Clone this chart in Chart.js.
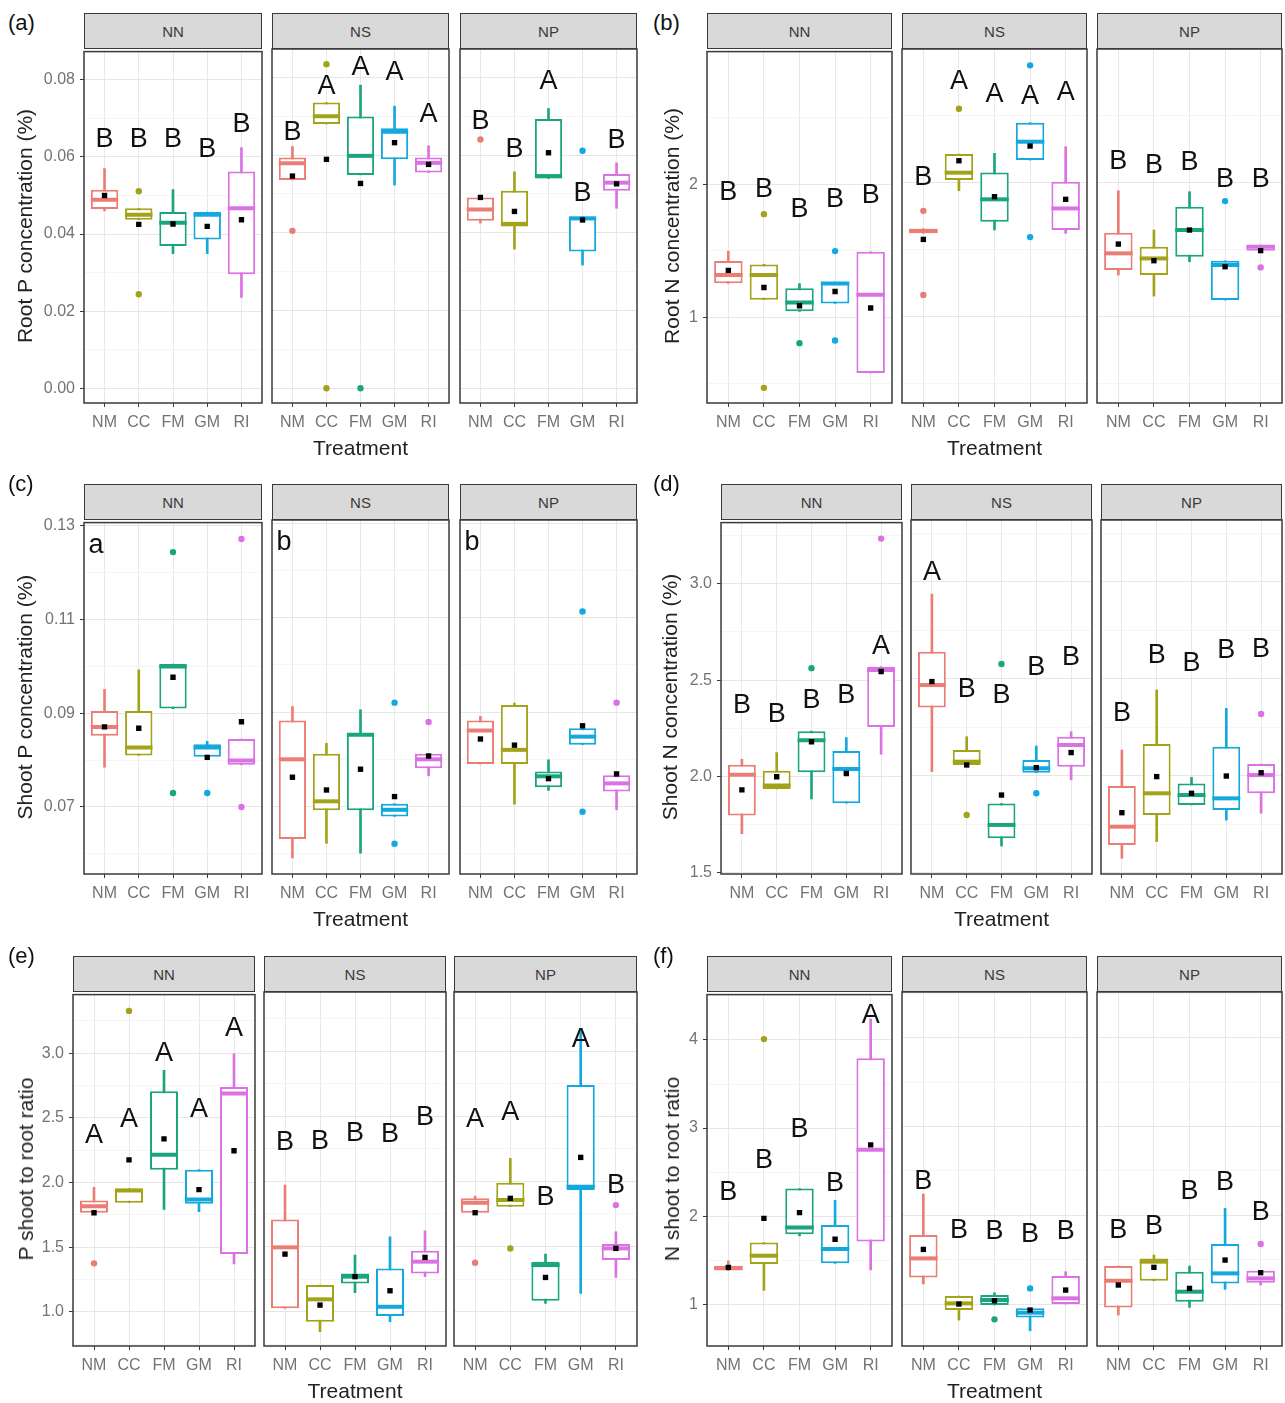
<!DOCTYPE html>
<html>
<head>
<meta charset="utf-8">
<title>Root and shoot nutrient concentrations</title>
<script src="https://cdn.jsdelivr.net/npm/chart.js@4/dist/chart.umd.min.js"></script>
<style>
  html, body { margin: 0; padding: 0; background: #fff; }
  body { width: 1285px; height: 1403px; position: relative; overflow: hidden;
         font-family: "Liberation Sans", Arial, sans-serif; }
  canvas { position: absolute; }
  .strip { position: absolute; box-sizing: border-box; background: #d9d9d9; border: 1px solid #3a3a3a;
           color: #3a3a3a; font-size: 15px; display: flex; align-items: center; justify-content: center; }
  .tag { position: absolute; font-size: 22px; color: #111; transform: translateY(-50%); }
  .xtitle { position: absolute; font-size: 21px; color: #222; transform: translate(-50%, -50%); white-space: nowrap; }
  .ytitle { position: absolute; font-size: 21px; color: #222; transform: translate(-50%, -50%) rotate(-90deg); white-space: nowrap; }
</style>
</head>
<body>
<script>
// ---------- categories ----------
const treatments = ['NM', 'CC', 'FM', 'GM', 'RI'];
const facets = ['NN', 'NS', 'NP'];
const treatmentColors = ['#ec7d74', '#a3a31a', '#1aa57e', '#14a9dd', '#da72e4'];

// Box statistics per facet (NN, NS, NP), per treatment:
// [lower whisker, Q1, median, Q3, upper whisker]

// (a) Root P concentration (%)
const rootP_stats = [
  [[0.0460,0.0465,0.0489,0.0515,0.0570],[0.0437,0.0437,0.0450,0.0467,0.0467],[0.0349,0.0369,0.0429,0.0457,0.0515],[0.0349,0.0386,0.0450,0.0457,0.0457],[0.0236,0.0296,0.0467,0.0562,0.0624]],
  [[0.0536,0.0536,0.0579,0.0594,0.0622],[0.0680,0.0680,0.0700,0.0735,0.0735],[0.0549,0.0549,0.0598,0.0699,0.0780],[0.0523,0.0589,0.0660,0.0669,0.0726],[0.0555,0.0555,0.0580,0.0594,0.0624]],
  [[0.0425,0.0431,0.0460,0.0491,0.0491],[0.0358,0.0416,0.0423,0.0508,0.0557],[0.0540,0.0540,0.0546,0.0693,0.0720],[0.0317,0.0352,0.0437,0.0442,0.0442],[0.0463,0.0508,0.0529,0.0551,0.0580]]
];
const rootP_means = [[0.0500,0.0425,0.0426,0.0420,0.0437],[0.0546,0.0589,0.0527,0.0632,0.0576],[0.0491,0.0455,0.0606,0.0433,0.0526]];
const rootP_outliers = [[[],[0.0511,0.0244],[],[],[]],[[0.0405],[0.0834,0.0],[0.0],[],[]],[[0.0640],[],[],[0.0611],[]]];
const rootP_letters = [['B','B','B','B','B'],['B','A','A','A','A'],['B','B','A','B','B']];
const rootP_letterY = [[0.0648,0.0648,0.0648,0.0622,0.0686],[0.0660,0.0780,0.0828,0.0815,0.0707],[0.0690,0.0617,0.0793,0.0503,0.0639]];
const rootP_range = [-0.0038, 0.0873];
const rootP_major = [0, 0.02, 0.04, 0.06, 0.08];
const rootP_minor = [0.01, 0.03, 0.05, 0.07];

// (b) Root N concentration (%)
const rootN_stats = [
  [[1.256,1.256,1.318,1.423,1.498],[1.132,1.132,1.318,1.398,1.398],[1.045,1.045,1.112,1.219,1.254],[1.104,1.104,1.254,1.266,1.266],[0.582,0.582,1.169,1.493,1.493]],
  [[1.622,1.622,1.640,1.657,1.657],[1.940,2.020,2.075,2.214,2.214],[1.647,1.709,1.876,2.077,2.219],[2.169,2.169,2.306,2.448,2.448],[1.622,1.647,1.808,2.007,2.269]],
  [[1.311,1.348,1.473,1.627,1.940],[1.154,1.311,1.435,1.522,1.647],[1.410,1.448,1.647,1.821,1.933],[1.124,1.124,1.386,1.418,1.418],[1.493,1.493,1.522,1.535,1.535]]
];
const rootN_means = [[1.353,1.224,1.087,1.194,1.070],[1.577,2.164,1.896,2.274,1.876],[1.542,1.418,1.647,1.373,1.493]];
const rootN_outliers = [[[],[1.776,0.470],[0.806],[1.498,0.826],[]],[[1.790,1.162],[2.552],[],[2.876,1.594],[]],[[],[],[],[1.863],[1.368]]];
const rootN_letters = [['B','B','B','B','B'],['B','A','A','A','A'],['B','B','B','B','B']];
const rootN_letterY = [[1.945,1.970,1.820,1.895,1.920],[2.045,2.766,2.667,2.654,2.679],[2.169,2.132,2.157,2.032,2.032]];
const rootN_range = [0.356, 2.998];
const rootN_major = [1, 2];
const rootN_minor = [0.5, 1.5, 2.5];

// (c) Shoot P concentration (%)
const shootP_stats = [
  [[0.0785,0.0852,0.0871,0.0905,0.0951],[0.0810,0.0810,0.0827,0.0905,0.0993],[0.0910,0.0910,0.1000,0.1005,0.1005],[0.0807,0.0807,0.0827,0.0834,0.0840],[0.0790,0.0790,0.0799,0.0845,0.0845]],
  [[0.0591,0.0631,0.0800,0.0882,0.0912],[0.0622,0.0692,0.0711,0.0812,0.0834],[0.0601,0.0692,0.0852,0.0855,0.0905],[0.0679,0.0679,0.0693,0.0706,0.0706],[0.0765,0.0781,0.0800,0.0812,0.0812]],
  [[0.0790,0.0790,0.0861,0.0882,0.0891],[0.0705,0.0790,0.0820,0.0915,0.0919],[0.0734,0.0741,0.0764,0.0774,0.0799],[0.0831,0.0831,0.0848,0.0866,0.0866],[0.0693,0.0732,0.0749,0.0766,0.0766]]
];
const shootP_means = [[0.0871,0.0868,0.0977,0.0806,0.0882],[0.0762,0.0735,0.0779,0.0721,0.0807],[0.0843,0.0830,0.0759,0.0871,0.0769]];
const shootP_outliers = [[[],[],[0.1244,0.0730],[0.0730],[0.1272,0.0700]],[[],[],[],[0.0920,0.0621],[0.0879]],[[],[],[],[0.1113,0.0689],[0.0920]]];
const shootP_groupLetters = ['a', 'b', 'b'];
const shootP_groupLetterY = [0.1261, 0.1261, 0.1261];
const shootP_range = [0.0557, 0.1307];
const shootP_major = [0.07, 0.09, 0.11, 0.13];
const shootP_minor = [0.06, 0.08, 0.10, 0.12];

// (d) Shoot N concentration (%)
const shootN_stats = [
  [[1.703,1.797,2.009,2.060,2.089],[1.935,1.935,1.952,2.029,2.124],[1.883,2.021,2.187,2.235,2.235],[1.861,1.861,2.038,2.132,2.201],[2.115,2.256,2.553,2.570,2.570]],
  [[2.021,2.352,2.467,2.639,2.936],[2.055,2.055,2.072,2.132,2.201],[1.637,1.677,1.746,1.857,1.857],[2.015,2.015,2.038,2.081,2.153],[1.978,2.046,2.158,2.201,2.227]],
  [[1.574,1.643,1.737,1.947,2.132],[1.660,1.797,1.909,2.163,2.442],[1.849,1.849,1.900,1.960,1.991],[1.771,1.823,1.883,2.149,2.347],[1.806,1.909,2.003,2.060,2.060]]
];
const shootN_means = [[1.930,1.998,2.180,2.015,2.545],[2.485,2.055,1.900,2.041,2.119],[1.809,1.995,1.909,1.998,2.015]];
const shootN_outliers = [[[],[],[2.562],[],[3.235]],[[],[1.797],[2.576],[1.909],[]],[[],[],[],[],[2.318]]];
const shootN_letters = [['B','B','B','B','A'],['A','B','B','B','B'],['B','B','B','B','B']];
const shootN_letterY = [[2.373,2.325,2.399,2.424,2.682],[3.052,2.450,2.416,2.562,2.613],[2.325,2.622,2.582,2.648,2.656]];
const shootN_range = [1.493, 3.318];
const shootN_major = [1.5, 2.0, 2.5, 3.0];
const shootN_minor = [1.75, 2.25, 2.75, 3.25];

// (e) P shoot to root ratio
const ratioP_stats = [
  [[1.767,1.767,1.818,1.862,1.964],[1.844,1.844,1.939,1.954,1.954],[1.793,2.100,2.215,2.706,2.867],[1.775,1.836,1.870,2.100,2.100],[1.371,1.448,2.688,2.739,2.995]],
  [[1.026,1.026,1.494,1.708,1.972],[0.847,0.923,1.095,1.205,1.205],[1.146,1.217,1.269,1.294,1.435],[0.923,0.967,1.038,1.332,1.575],[1.269,1.294,1.384,1.468,1.621]],
  [[1.760,1.760,1.836,1.870,1.887],[1.806,1.806,1.857,1.990,2.176],[1.064,1.084,1.358,1.384,1.442],[1.141,1.934,1.959,2.739,3.174],[1.263,1.396,1.486,1.519,1.614]]
];
const ratioP_means = [[1.767,2.176,2.338,1.946,2.246],[1.442,1.051,1.269,1.161,1.417],[1.760,1.870,1.263,2.184,1.486]];
const ratioP_outliers = [[[1.376],[3.327],[],[],[]],[[],[],[],[],[]],[[1.376],[1.486],[],[],[1.818]]];
const ratioP_letters = [['A','A','A','A','A'],['B','B','B','B','B'],['A','A','B','A','B']];
const ratioP_letterY = [[2.368,2.496,3.008,2.573,3.200],[2.304,2.312,2.373,2.368,2.496],[2.483,2.535,1.882,3.097,1.972]];
const ratioP_range = [0.737, 3.453];
const ratioP_major = [1.0, 1.5, 2.0, 2.5, 3.0];
const ratioP_minor = [0.75, 1.25, 1.75, 2.25, 2.75, 3.25];

// (f) N shoot to root ratio
const ratioN_stats = [
  [[1.383,1.383,1.413,1.439,1.495],[1.157,1.458,1.552,1.702,1.702],[1.777,1.796,1.871,2.314,2.314],[1.465,1.465,1.627,1.901,2.179],[1.390,1.713,2.753,3.793,4.237]],
  [[1.225,1.300,1.514,1.777,2.239],[0.819,0.932,1.007,1.090,1.090],[0.988,0.988,1.045,1.101,1.127],[0.699,0.849,0.902,0.951,0.951],[1.000,1.000,1.064,1.315,1.364]],
  [[0.876,0.962,1.262,1.428,1.428],[1.262,1.262,1.477,1.514,1.552],[0.962,1.026,1.139,1.364,1.428],[1.165,1.232,1.345,1.676,2.077],[1.214,1.240,1.289,1.375,1.375]]
];
const ratioN_means = [[1.420,1.976,2.040,1.739,2.810],[1.615,1.000,1.037,0.932,1.157],[1.214,1.413,1.176,1.495,1.353]];
const ratioN_outliers = [[[],[4.010],[],[],[]],[[],[],[0.827],[1.176],[]],[[],[],[],[],[1.676]]];
const ratioN_letters = [['B','B','B','B','A'],['B','B','B','B','B'],['B','B','B','B','B']];
const ratioN_letterY = [[2.284,2.641,2.990,2.378,4.293],[2.389,1.841,1.826,1.796,1.833],[1.841,1.889,2.276,2.378,2.040]];
const ratioN_range = [0.527, 4.515];
const ratioN_major = [1, 2, 3, 4];
const ratioN_minor = [1.5, 2.5, 3.5, 4.5];

// ---------- page layout ----------
const FONT = '"Liberation Sans", Arial, sans-serif';
const PLOT_H = 354, STRIP_H = 36, Y_AXIS_W = 62, X_AXIS_H = 46;
const PAD_T = 12, PAD_S = 4;

const panels = [
  { tag: '(a)', tagX: 8,   tagY: 23,  top: 49,  cols: [[84,262],[272,449],[460,637]],     titleX: 25,  yTitle: 'Root P concentration (%)',
    stats: rootP_stats, means: rootP_means, outliers: rootP_outliers, letters: rootP_letters, letterY: rootP_letterY,
    range: rootP_range, major: rootP_major, minor: rootP_minor, digits: 2 },
  { tag: '(b)', tagX: 653, tagY: 23,  top: 49,  cols: [[707,892],[902,1087],[1097,1282]],  titleX: 672, yTitle: 'Root N concentration (%)',
    stats: rootN_stats, means: rootN_means, outliers: rootN_outliers, letters: rootN_letters, letterY: rootN_letterY,
    range: rootN_range, major: rootN_major, minor: rootN_minor, digits: 0 },
  { tag: '(c)', tagX: 8,   tagY: 484, top: 520, cols: [[84,262],[272,449],[460,637]],     titleX: 25,  yTitle: 'Shoot P concentration (%)',
    stats: shootP_stats, means: shootP_means, outliers: shootP_outliers, groupLetters: shootP_groupLetters, groupLetterY: shootP_groupLetterY,
    range: shootP_range, major: shootP_major, minor: shootP_minor, digits: 2 },
  { tag: '(d)', tagX: 653, tagY: 484, top: 520, cols: [[721,902],[911,1092],[1101,1282]],  titleX: 670, yTitle: 'Shoot N concentration (%)',
    stats: shootN_stats, means: shootN_means, outliers: shootN_outliers, letters: shootN_letters, letterY: shootN_letterY,
    range: shootN_range, major: shootN_major, minor: shootN_minor, digits: 1 },
  { tag: '(e)', tagX: 8,   tagY: 956, top: 992, cols: [[73,255],[264,446],[454,637]],     titleX: 26,  yTitle: 'P shoot to root ratio',
    stats: ratioP_stats, means: ratioP_means, outliers: ratioP_outliers, letters: ratioP_letters, letterY: ratioP_letterY,
    range: ratioP_range, major: ratioP_major, minor: ratioP_minor, digits: 1 },
  { tag: '(f)', tagX: 653, tagY: 956, top: 992, cols: [[707,892],[902,1087],[1097,1282]],  titleX: 672, yTitle: 'N shoot to root ratio',
    stats: ratioN_stats, means: ratioN_means, outliers: ratioN_outliers, letters: ratioN_letters, letterY: ratioN_letterY,
    range: ratioN_range, major: ratioN_major, minor: ratioN_minor, digits: 0 }
];

Chart.defaults.font.family = FONT;
Chart.defaults.animation = false;

// Panel border plus the significance letters, placed through the chart's scales.
const facetDecor = {
  id: 'facetDecor',
  afterDatasetsDraw(chart, args, opts) {
    const { ctx, chartArea: a } = chart;
    const xs = chart.scales.x, ys = chart.scales.y;
    ctx.save();
    ctx.fillStyle = '#111';
    ctx.textBaseline = 'middle';
    ctx.font = '27px ' + FONT;
    ctx.textAlign = 'center';
    (opts.letters || []).forEach((L, i) => {
      ctx.fillText(L, xs.getPixelForValue(i), ys.getPixelForValue(opts.letterY[i]) + 1);
    });
    if (opts.group) {
      ctx.fillText(opts.group, xs.getPixelForValue(-0.25), ys.getPixelForValue(opts.groupY) + 1);
    }
    ctx.strokeStyle = '#3a3a3a';
    ctx.lineWidth = 1.5;
    ctx.strokeRect(a.left, a.top, a.right - a.left, a.bottom - a.top);
    ctx.restore();
  }
};

function addDiv(cls, text, style) {
  const d = document.createElement('div');
  d.className = cls;
  d.textContent = text;
  Object.assign(d.style, style);
  document.body.appendChild(d);
  return d;
}

function buildFacet(p, f) {
  const [x0, x1] = p.cols[f];
  const first = f === 0;
  const yW = first ? Y_AXIS_W : 0;
  const w = x1 - x0;

  const canvas = document.createElement('canvas');
  canvas.width = w + yW + 2 * PAD_S;
  canvas.height = PLOT_H + PAD_T + X_AXIS_H;
  canvas.style.left = (x0 - yW - PAD_S) + 'px';
  canvas.style.top = (p.top - PAD_T) + 'px';
  canvas.style.width = canvas.width + 'px';
  canvas.style.height = canvas.height + 'px';
  document.body.appendChild(canvas);

  const stats = p.stats[f];
  const yTicks = p.major.map(v => ({ value: v, isMajor: true }))
    .concat(p.minor.map(v => ({ value: v, isMajor: false })))
    .sort((a, b) => a.value - b.value);

  const outPts = [], outCols = [];
  p.outliers[f].forEach((vals, i) => vals.forEach(v => { outPts.push({ x: i, y: v }); outCols.push(treatmentColors[i]); }));

  const halfBox = (chart) => {
    const xs = chart.scales.x;
    return Math.abs(xs.getPixelForValue(0.4) - xs.getPixelForValue(0));
  };

  new Chart(canvas, {
    type: 'bar',
    data: {
      datasets: [
        { // whiskers
          type: 'bar', order: 5, grouped: false,
          data: stats.map((s, i) => ({ x: i, y: [s[0], s[4]] })),
          backgroundColor: treatmentColors, borderWidth: 0, barThickness: 2
        },
        { // boxes (Q1 to Q3)
          type: 'bar', order: 4, grouped: false,
          data: stats.map((s, i) => ({ x: i, y: [s[1], s[3]] })),
          backgroundColor: '#ffffff', borderColor: treatmentColors, borderWidth: 2, borderSkipped: false,
          categoryPercentage: 1, barPercentage: 0.8
        },
        { // medians
          type: 'scatter', order: 3,
          data: stats.map((s, i) => ({ x: i, y: s[2] })),
          pointStyle: 'line', pointBorderColor: treatmentColors, pointBorderWidth: 4,
          pointRadius: ctx => halfBox(ctx.chart)
        },
        { // outliers
          type: 'scatter', order: 2,
          data: outPts,
          pointStyle: 'circle', pointBackgroundColor: outCols, pointBorderWidth: 0, pointRadius: 3.2
        },
        { // means
          type: 'scatter', order: 1,
          data: p.means[f].map((m, i) => ({ x: i, y: m })),
          pointStyle: 'rect', pointBackgroundColor: '#000', pointBorderWidth: 0, pointRadius: 3.8
        }
      ]
    },
    options: {
      responsive: false,
      devicePixelRatio: 1,
      animation: false,
      events: [],
      layout: { padding: { top: PAD_T, left: PAD_S, right: PAD_S, bottom: 0 } },
      plugins: {
        legend: { display: false },
        tooltip: { enabled: false },
        facetDecor: {
          letters: p.letters ? p.letters[f] : null,
          letterY: p.letterY ? p.letterY[f] : null,
          group: p.groupLetters ? p.groupLetters[f] : null,
          groupY: p.groupLetterY ? p.groupLetterY[f] : null
        }
      },
      scales: {
        x: {
          type: 'linear', min: -0.6, max: 4.6, bounds: 'data', offset: false, beginAtZero: false,
          afterBuildTicks: s => { s.ticks = treatments.map((t, i) => ({ value: i })); },
          afterFit: s => { s.height = X_AXIS_H; },
          ticks: {
            callback: v => treatments[v], autoSkip: false, maxRotation: 0, minRotation: 0,
            font: { size: 16, family: FONT }, color: '#737373', padding: 6
          },
          grid: { offset: false, color: '#e8e8e8', lineWidth: 1, tickColor: '#3a3a3a', tickLength: 4, tickWidth: 1 },
          border: { display: false }
        },
        y: {
          type: 'linear', min: p.range[0], max: p.range[1], bounds: 'data', beginAtZero: false,
          afterBuildTicks: s => { s.ticks = yTicks.map(t => ({ value: t.value, isMajor: t.isMajor })); },
          afterFit: s => { s.width = yW; },
          ticks: {
            display: first, autoSkip: false,
            callback: (v, i, ticks) => (ticks[i].isMajor ? Number(v).toFixed(p.digits) : ''),
            font: { size: 16, family: FONT }, color: '#737373', padding: 5
          },
          grid: {
            color: c => (c.tick && c.tick.isMajor ? '#e6e6e6' : '#f3f3f3'),
            lineWidth: c => (c.tick && c.tick.isMajor ? 1 : 0.8),
            drawTicks: first, tickLength: 4, tickWidth: 1,
            tickColor: c => (c.tick && c.tick.isMajor ? '#3a3a3a' : 'rgba(0,0,0,0)')
          },
          border: { display: false }
        }
      }
    },
    plugins: [facetDecor]
  });

  // facet strip
  addDiv('strip', facets[f], { left: x0 + 'px', top: (p.top - STRIP_H) + 'px', width: w + 'px', height: STRIP_H + 'px' });
}

panels.forEach(p => {
  for (let f = 0; f < 3; f++) buildFacet(p, f);
  const left = p.cols[0][0], right = p.cols[2][1];
  addDiv('tag', p.tag, { left: p.tagX + 'px', top: p.tagY + 'px' });
  addDiv('xtitle', 'Treatment', { left: ((left + right) / 2) + 'px', top: (p.top + PLOT_H + 45) + 'px' });
  addDiv('ytitle', p.yTitle, { left: p.titleX + 'px', top: (p.top + PLOT_H / 2) + 'px' });
});
</script>
</body>
</html>
